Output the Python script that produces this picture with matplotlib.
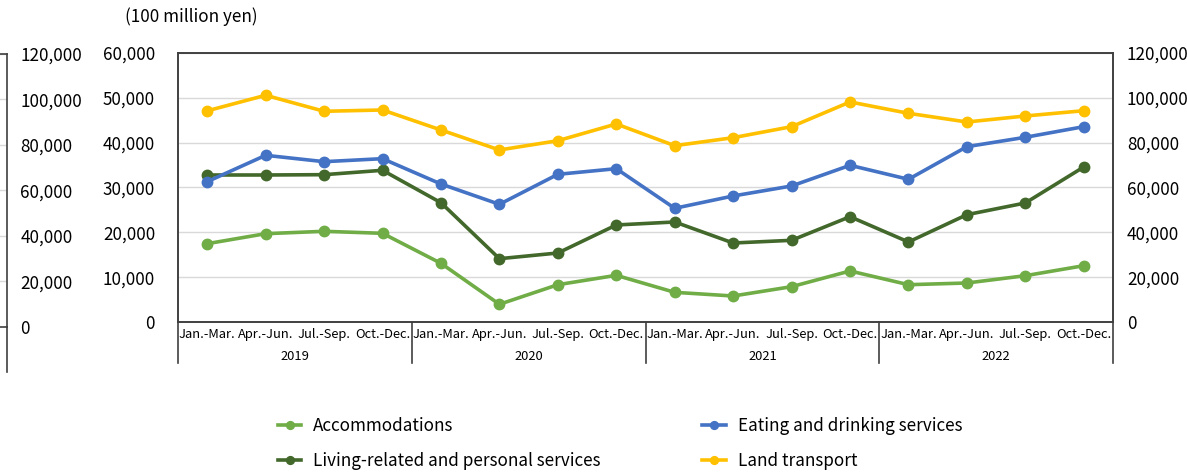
import matplotlib
matplotlib.use("Agg")
import matplotlib.pyplot as plt
from matplotlib.ticker import FuncFormatter
import matplotlib.transforms as mtransforms

plt.rcParams['font.family'] = ['Noto Sans CJK JP', 'DejaVu Sans']

# Quarterly sales, 100 million yen
quarters = ["Jan.-Mar.", "Apr.-Jun.", "Jul.-Sep.", "Oct.-Dec."] * 4
years = ["2019", "2020", "2021", "2022"]

accommodations = [17470, 19700, 20230, 19780, 13090, 3950, 8320, 10410,
                  6620, 5800, 7880, 11380, 8320, 8700, 10330, 12560]
living_related = [32790, 32790, 32860, 33840, 26610, 14120, 15390, 21640,
                  22310, 17620, 18220, 23490, 17850, 23940, 26550, 34580]
# Right-hand axis series
eating_drinking = [62600, 74360, 71520, 72860, 61560, 52500, 65880, 68400,
                   50720, 56220, 60680, 69900, 63660, 78220, 82400, 87140]
land_transport = [94200, 101140, 94000, 94580, 85660, 76740, 80880, 88340,
                  78660, 82220, 87140, 98160, 93100, 89220, 91900, 94260]

C_ACC = "#70AD47"
C_EAT = "#4472C4"
C_LIV = "#43682B"
C_LAND = "#FFC000"
GRID = "#D9D9D9"
EDGE = "#404040"

W, H = 1187, 473
fig = plt.figure(figsize=(W / 100, H / 100), dpi=100)

def fx(px):
    return px / W

def fy(py):
    return 1 - py / H

thou = FuncFormatter(lambda v, p: f"{int(v):,}")
TICK_FS = 12.3

# Fragment of a neighbouring chart's value axis at the far left
axf = fig.add_axes([fx(-200), fy(327), fx(207), fy(54) - fy(327)])
axf.set_ylim(0, 120000)
axf.set_xlim(0, 1)
axf.set_yticks(range(0, 120001, 20000))
axf.yaxis.set_major_formatter(thou)
axf.yaxis.tick_right()
axf.tick_params(axis="y", length=0, pad=9.5, labelsize=TICK_FS, colors="#000000")
axf.set_xticks([])
axf.grid(axis="y", color=GRID, lw=1)
axf.spines["left"].set_visible(False)
for s in ["right", "top", "bottom"]:
    axf.spines[s].set_color(EDGE)
    axf.spines[s].set_linewidth(1.2)
axf.plot([1, 1], [0, -0.165], transform=axf.transAxes, color=EDGE,
         lw=1.2, clip_on=False)

# Main chart
ax = fig.add_axes([fx(178), fy(322), fx(1113) - fx(178), fy(53) - fy(322)])
ax2 = ax.twinx()
x = list(range(len(quarters)))

lw, ms = 2.6, 7.5
h1, = ax.plot(x, accommodations, color=C_ACC, lw=lw, marker="o", ms=ms,
              label="Accommodations")
h3, = ax.plot(x, living_related, color=C_LIV, lw=lw, marker="o", ms=ms,
              label="Living-related and personal services")
h2, = ax2.plot(x, eating_drinking, color=C_EAT, lw=lw, marker="o", ms=ms,
               label="Eating and drinking services")
h4, = ax2.plot(x, land_transport, color=C_LAND, lw=lw, marker="o", ms=ms,
               label="Land transport")

ax.set_xlim(-0.5, len(quarters) - 0.5)
ax.set_ylim(0, 60000)
ax2.set_ylim(0, 120000)
ax.set_yticks(range(0, 60001, 10000))
ax2.set_yticks(range(0, 120001, 20000))
ax.yaxis.set_major_formatter(thou)
ax2.yaxis.set_major_formatter(thou)
ax.grid(axis="y", color=GRID, lw=1)
ax.set_axisbelow(True)
ax.tick_params(axis="y", length=0, pad=16.5, labelsize=TICK_FS)
ax2.tick_params(axis="y", length=0, pad=10, labelsize=TICK_FS)

ax.set_xticks(x)
ax.set_xticklabels(quarters, fontsize=9.3)
ax.tick_params(axis="x", length=0, pad=4)

for a in (ax, ax2):
    for s in a.spines.values():
        s.set_color(EDGE)
        s.set_linewidth(1.2)

# Year groups and separators below the category axis
trans = mtransforms.blended_transform_factory(ax.transData, ax.transAxes)
for b in [-0.5, 3.5, 7.5, 11.5, 15.5]:
    ax.plot([b, b], [0, -0.153], transform=trans, color=EDGE, lw=1.2,
            clip_on=False)
for i, yr in enumerate(years):
    ax.text(4 * i + 1.5, -0.127, yr, transform=trans, ha="center",
            va="center", fontsize=9.3)

fig.text(fx(125), fy(17), "(100 million yen)", ha="left", va="center",
         fontsize=12.3)

fig.legend(handles=[h1, h3, h2, h4], ncol=2, loc="upper left",
           bbox_to_anchor=(fx(269), fy(408)), frameon=False, fontsize=12.3,
           borderpad=0, handlelength=1.4, columnspacing=5.9,
           handletextpad=0.7, labelspacing=1.05, markerscale=0.75)

fig.savefig("out.png", dpi=100)
